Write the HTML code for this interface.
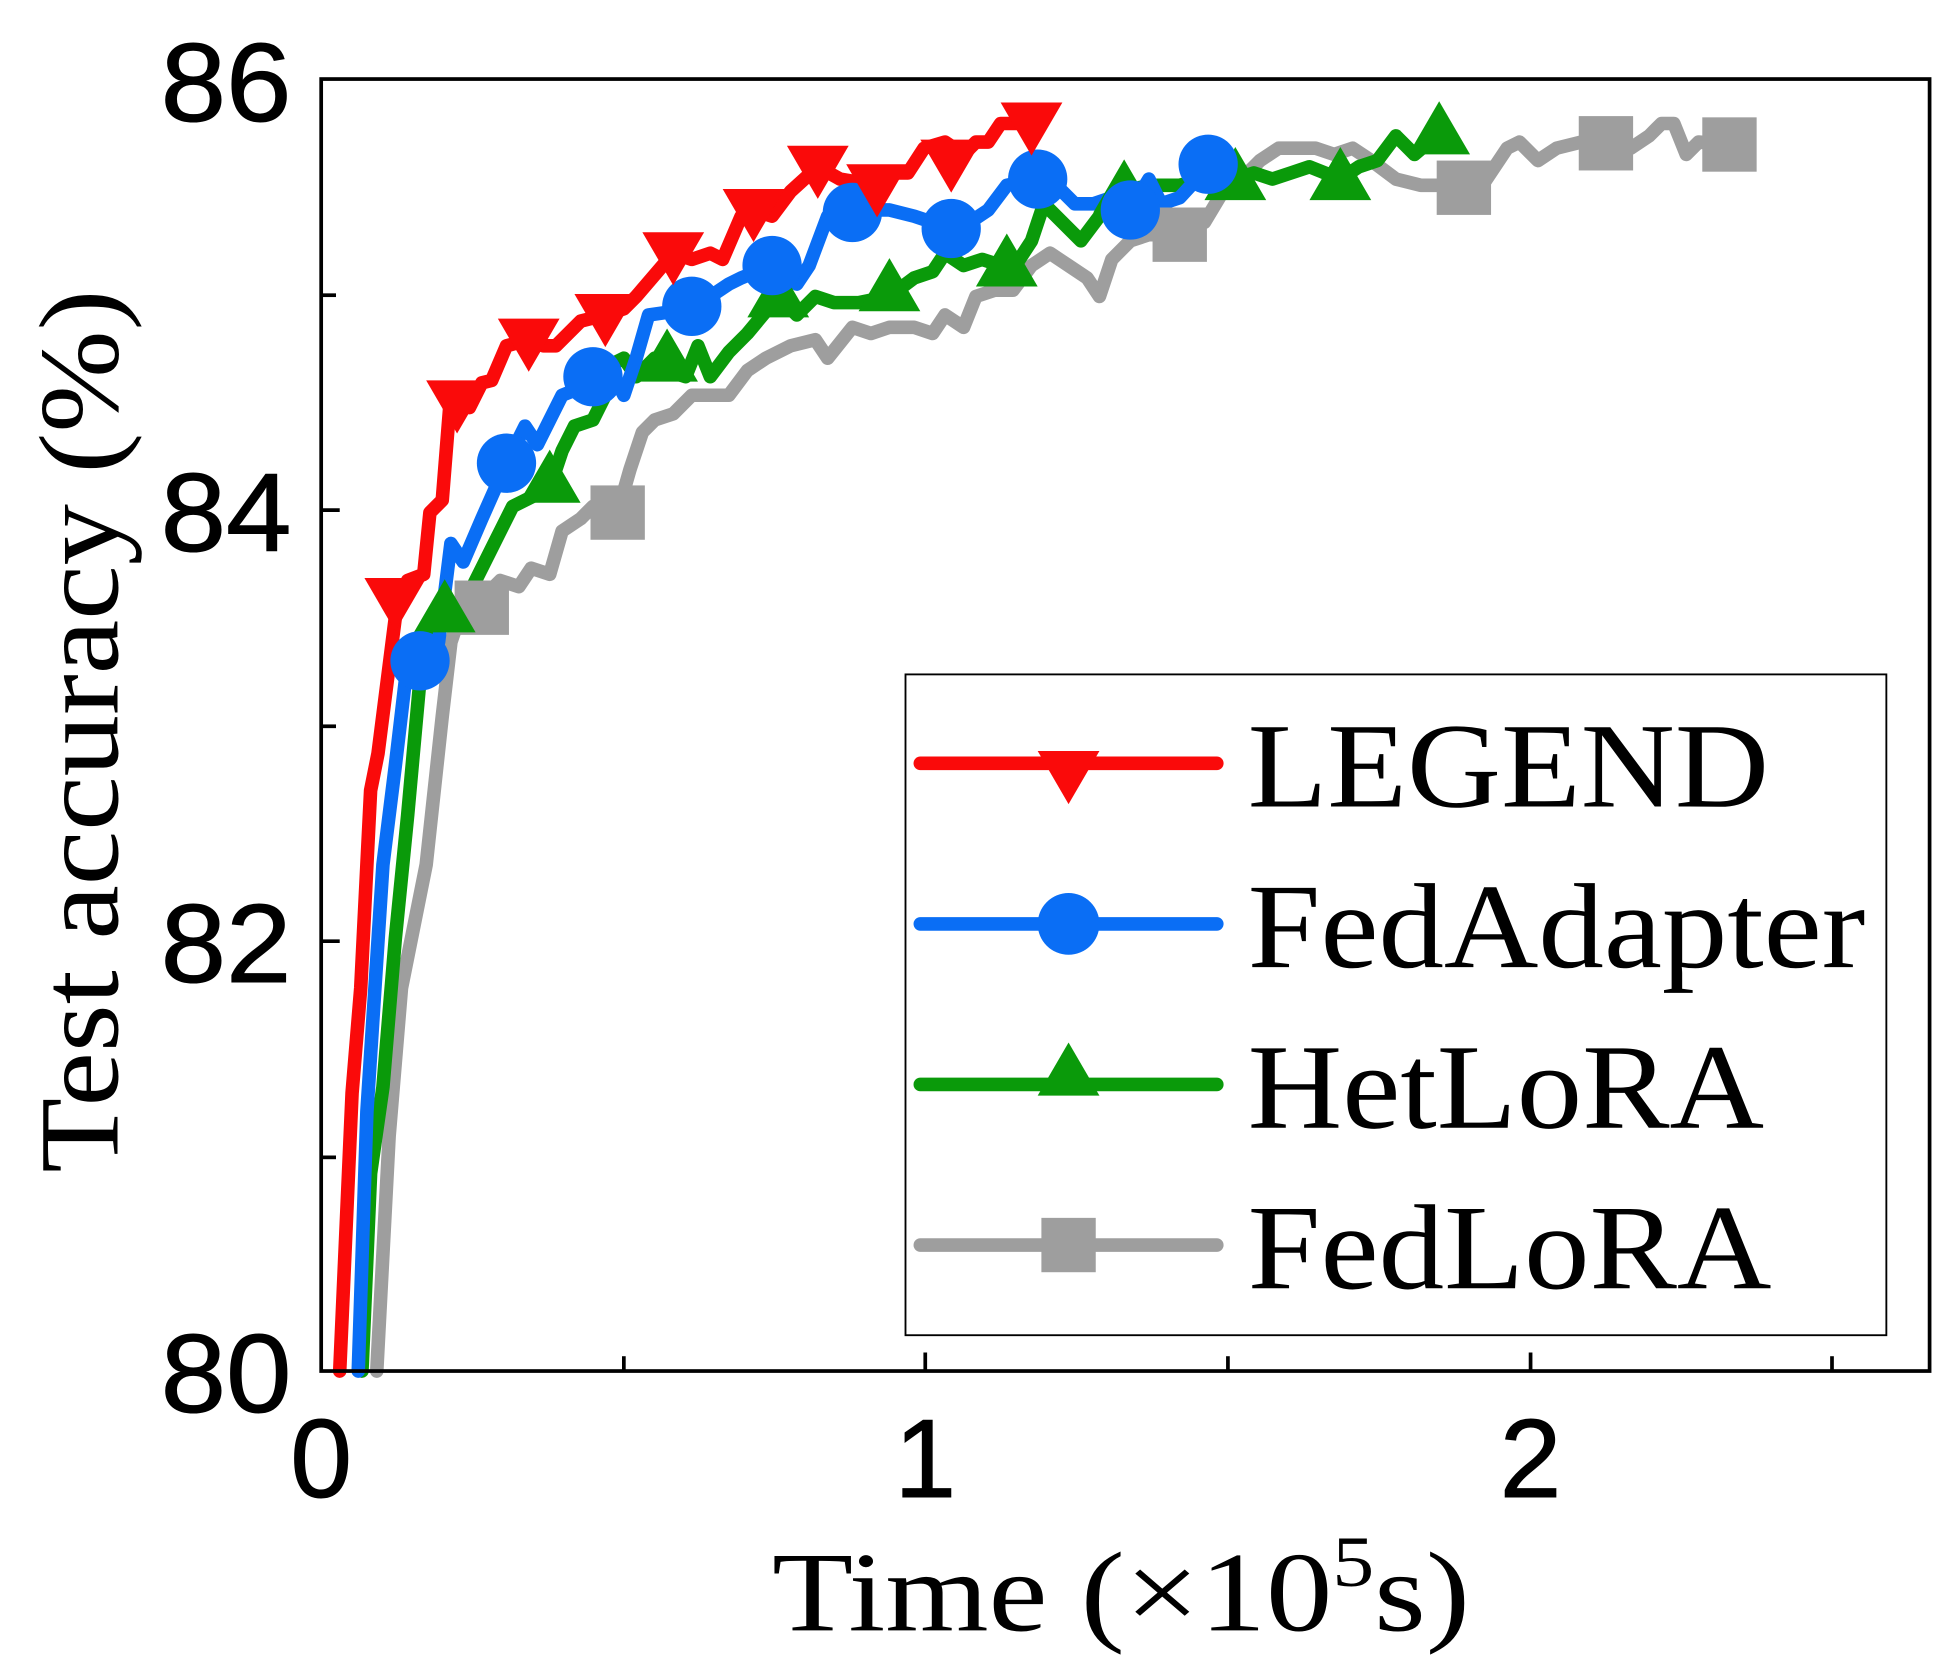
<!DOCTYPE html>
<html><head><style>html,body{margin:0;padding:0;background:#fff}</style></head>
<body>
<svg width="1937" height="1665" viewBox="0 0 1568 1348" preserveAspectRatio="none" xmlns="http://www.w3.org/2000/svg">
<defs>
<path id="tri" d="M0,-26 L25,17 L-25,17 Z"/>
<path id="itri" d="M0,26 L25,-17 L-25,-17 Z"/>
</defs>
<g fill="none" stroke-width="11" stroke-linejoin="round" stroke-linecap="round">
<polyline stroke="#9e9e9e" points="305,1110 315,920 325,800 345,700 358,580 365,520 375,490 390,485 405,470 420,475 430,460 445,465 455,430 470,420 480,410 500,415 510,380 520,350 530,340 545,335 560,320 575,320 590,320 605,300 620,290 640,280 660,275 670,290 690,265 705,270 720,265 740,265 755,270 765,255 780,265 790,240 805,235 820,235 835,215 850,205 865,215 880,225 890,240 900,210 915,195 930,190 955,190 975,180 990,155 1005,145 1020,130 1035,120 1050,120 1065,120 1080,125 1095,120 1110,130 1130,145 1150,150 1165,150 1185,152 1200,150 1210,135 1220,120 1230,115 1245,130 1260,120 1280,115 1300,116 1320,120 1335,110 1345,100 1355,100 1365,125 1375,115 1400,117"/>
<polyline stroke="#0a9a0a" points="293,1110 300,950 310,880 320,760 330,660 340,550 348,510 360,500 380,480 400,440 415,410 445,395 455,365 465,345 480,340 490,320 495,295 505,290 515,305 530,290 540,300 555,305 565,280 575,305 590,285 605,270 630,240 645,255 660,240 675,245 695,245 720,240 740,225 755,220 765,205 780,215 795,210 820,218 835,195 845,165 860,180 875,195 890,175 910,155 930,150 955,150 975,145 1000,145 1015,140 1030,145 1045,140 1060,135 1085,145 1100,135 1115,130 1130,110 1145,125 1165,108"/>
<polyline stroke="#0a6ef5" points="290,1110 297,900 310,700 320,620 330,535 340,535 355,520 365,440 375,455 390,420 410,375 425,345 435,360 445,340 455,320 480,310 495,300 505,320 515,290 525,255 560,250 575,240 590,230 600,225 625,215 645,230 655,215 670,175 690,175 705,170 720,170 740,175 770,185 785,180 800,170 815,150 840,145 855,150 870,165 885,165 900,160 915,170 930,145 940,165 955,160 978,135 1000,140"/>
<polyline stroke="#fa0a0a" points="275,1110 285,885 292,800 300,640 306,610 320,500 330,470 343,465 348,415 358,405 364,330 370,325 380,330 390,310 398,308 410,280 428,275 440,280 450,280 470,260 490,255 505,250 515,240 545,205 560,210 575,205 585,210 600,175 610,170 625,175 640,155 662,135 680,145 710,150 725,140 735,140 748,120 765,115 780,125 790,115 800,115 810,100 835,100"/>
</g>
<g fill="#9e9e9e"><rect x="368" y="470" width="44" height="44"/><rect x="478" y="393" width="44" height="44"/><rect x="933" y="168" width="44" height="44"/><rect x="1163" y="130" width="44" height="44"/><rect x="1278" y="94" width="44" height="44"/><rect x="1378" y="95" width="44" height="44"/></g>
<g fill="#0a9a0a"><use href="#tri" x="360" y="495"/><use href="#tri" x="445" y="390"/><use href="#tri" x="540" y="292"/><use href="#tri" x="630" y="240"/><use href="#tri" x="720" y="235"/><use href="#tri" x="815" y="215"/><use href="#tri" x="910" y="155"/><use href="#tri" x="1000" y="145"/><use href="#tri" x="1085" y="145"/><use href="#tri" x="1165" y="108"/></g>
<g fill="#0a6ef5"><circle cx="340" cy="535" r="24"/><circle cx="410" cy="375" r="24"/><circle cx="480" cy="305" r="24"/><circle cx="560" cy="248" r="24"/><circle cx="625" cy="215" r="24"/><circle cx="690" cy="172" r="24"/><circle cx="770" cy="185" r="24"/><circle cx="840" cy="145" r="24"/><circle cx="915" cy="170" r="24"/><circle cx="978" cy="133" r="24"/></g>
<g fill="#fa0a0a"><use href="#itri" x="320" y="485"/><use href="#itri" x="370" y="325"/><use href="#itri" x="428" y="275"/><use href="#itri" x="490" y="255"/><use href="#itri" x="545" y="205"/><use href="#itri" x="610" y="170"/><use href="#itri" x="662" y="135"/><use href="#itri" x="710" y="150"/><use href="#itri" x="770" y="130"/><use href="#itri" x="835" y="100"/></g>
<rect x="260" y="64" width="1302" height="1046" fill="none" stroke="#000" stroke-width="3"/>
<g stroke="#000" stroke-width="3">
<line x1="260" y1="239" x2="272" y2="239"/><line x1="260" y1="413" x2="275" y2="413"/><line x1="260" y1="588" x2="272" y2="588"/><line x1="260" y1="762" x2="275" y2="762"/><line x1="260" y1="937" x2="272" y2="937"/>
<line x1="505" y1="1110" x2="505" y2="1098"/><line x1="749" y1="1110" x2="749" y2="1095"/><line x1="994" y1="1110" x2="994" y2="1098"/><line x1="1239" y1="1110" x2="1239" y2="1095"/><line x1="1483" y1="1110" x2="1483" y2="1098"/>
</g>
<g font-family="Liberation Sans, sans-serif" font-size="90" fill="#000" stroke="#000" stroke-width="0.8">
<text x="236" y="98" text-anchor="end" textLength="106" lengthAdjust="spacingAndGlyphs">86</text>
<text x="236" y="446" text-anchor="end" textLength="106" lengthAdjust="spacingAndGlyphs">84</text>
<text x="236" y="795" text-anchor="end" textLength="106" lengthAdjust="spacingAndGlyphs">82</text>
<text x="236" y="1143" text-anchor="end" textLength="106" lengthAdjust="spacingAndGlyphs">80</text>
<text x="260" y="1212" text-anchor="middle">0</text>
<text x="749" y="1212" text-anchor="middle">1</text>
<text x="1239" y="1212" text-anchor="middle">2</text>
</g>
<g font-family="Liberation Serif, serif" fill="#000">
<text x="625" y="1320" font-size="92" textLength="565" lengthAdjust="spacingAndGlyphs">Time (×10<tspan font-size="58" dy="-36">5</tspan><tspan dy="36">s)</tspan></text>
<text transform="translate(95,592) rotate(-90)" text-anchor="middle" font-size="92" textLength="715" lengthAdjust="spacingAndGlyphs">Test accuracy (%)</text>
</g>
<rect x="733" y="546" width="794" height="535" fill="#fff" stroke="#000" stroke-width="1.5"/>
<g stroke-width="11" stroke-linecap="round">
<line x1="745" y1="618" x2="985" y2="618" stroke="#fa0a0a"/>
<line x1="745" y1="748" x2="985" y2="748" stroke="#0a6ef5"/>
<line x1="745" y1="878" x2="985" y2="878" stroke="#0a9a0a"/>
<line x1="745" y1="1008" x2="985" y2="1008" stroke="#9e9e9e"/>
</g>
<use href="#itri" x="865" y="625" fill="#fa0a0a"/>
<circle cx="865" cy="748" r="25" fill="#0a6ef5"/>
<use href="#tri" x="865" y="870" fill="#0a9a0a"/>
<rect x="843" y="986" width="44" height="44" fill="#9e9e9e"/>
<g font-family="Liberation Serif, serif" font-size="98" fill="#000">
<text x="1010" y="653" textLength="422" lengthAdjust="spacingAndGlyphs">LEGEND</text>
<text x="1010" y="783" textLength="500" lengthAdjust="spacingAndGlyphs">FedAdapter</text>
<text x="1010" y="913" textLength="418" lengthAdjust="spacingAndGlyphs">HetLoRA</text>
<text x="1010" y="1043" textLength="424" lengthAdjust="spacingAndGlyphs">FedLoRA</text>
</g>
</svg>
</body></html>
